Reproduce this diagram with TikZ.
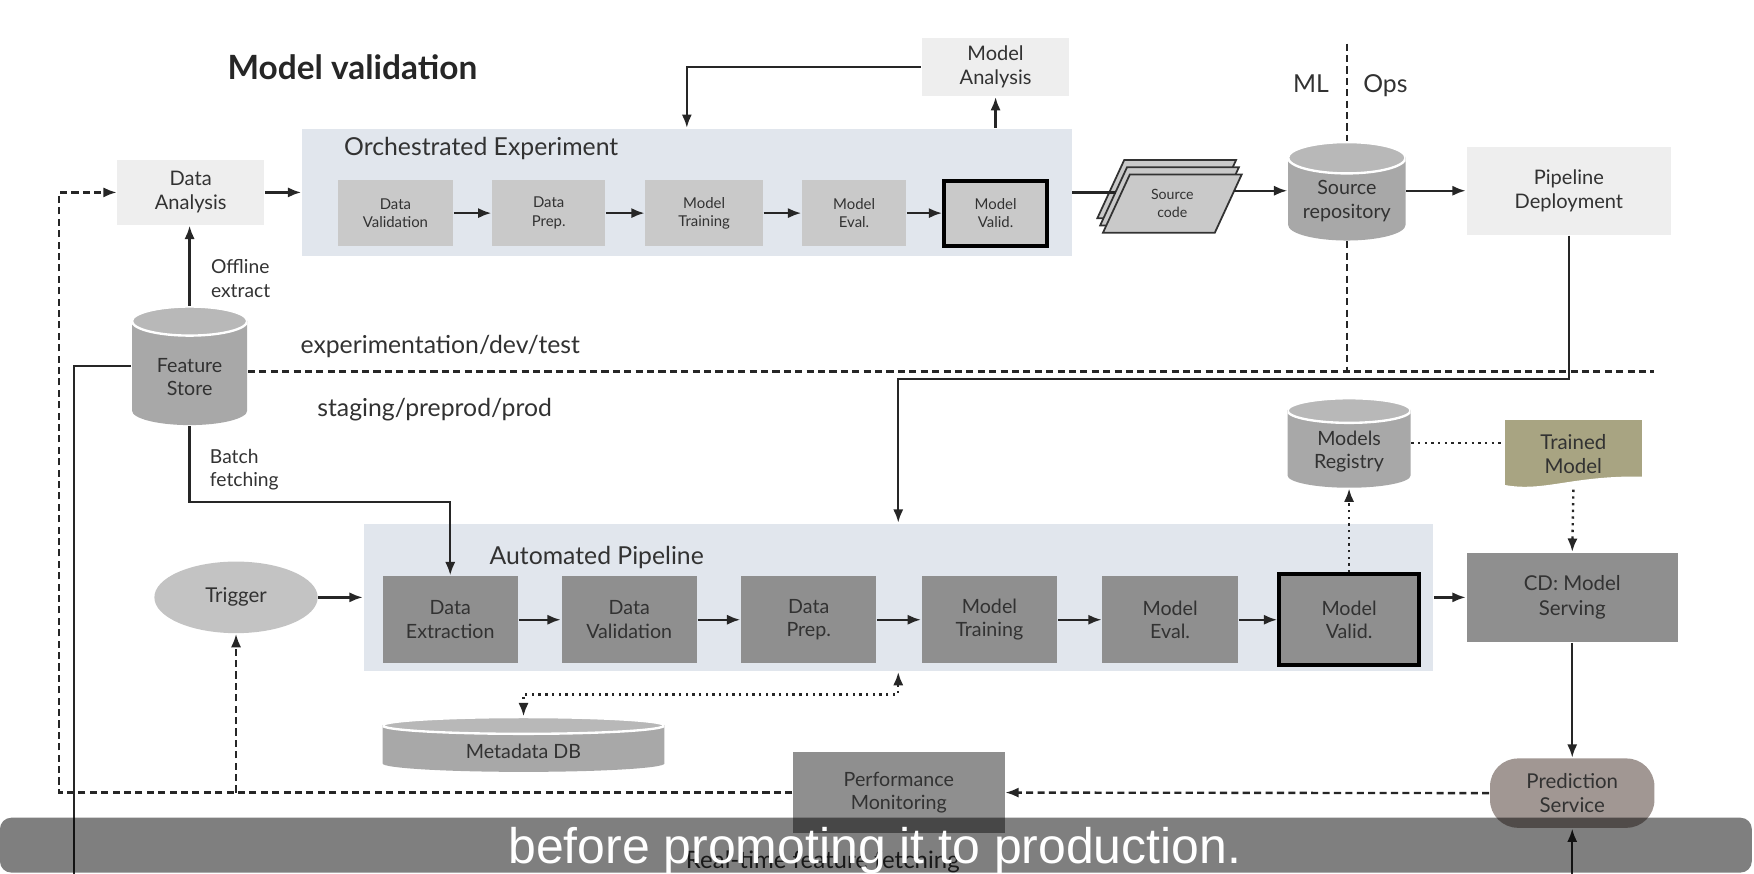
\documentclass[tikz,border=0pt]{standalone}
\usepackage{fontspec}
\setmainfont{Lato}
\newfontfamily\capfont{Liberation Sans}
\usepackage{xcolor}
\usetikzlibrary{arrows.meta,shapes.geometric,calc}

\definecolor{ink}{RGB}{50,50,50}
\definecolor{boxlight}{RGB}{238,238,238}
\definecolor{panelfill}{RGB}{225,230,237}
\definecolor{steplight}{RGB}{201,201,201}
\definecolor{stepdark}{RGB}{143,143,143}
\definecolor{dbbody}{RGB}{168,168,168}
\definecolor{dbtop}{RGB}{184,184,184}
\definecolor{trigfill}{RGB}{195,195,195}
\definecolor{olive}{RGB}{168,164,130}
\definecolor{psfill}{RGB}{161,151,147}

\begin{document}
\begin{tikzpicture}[
  every node/.style={text=ink, align=center, inner sep=0pt},
  lightbox/.style={fill=boxlight, font=\fontsize{5.1}{6.1}\selectfont},
  panel/.style={fill=panelfill},
  stepA/.style={fill=steplight, minimum height=0.59cm, font=\fontsize{3.8}{4.7}\selectfont},
  stepB/.style={fill=stepdark, minimum width=1.21cm, minimum height=0.78cm, font=\fontsize{5}{6}\selectfont},
  keystep/.style={draw=black, line width=1pt},
  db/.style={fill=white, path picture={
    \fill[dbbody] let \p1=(path picture bounding box.north west), \p2=(path picture bounding box.south east) in
      (\x1,{\y1-#1}) -- (\x1,{\y2+#1}) arc[start angle=180, end angle=360, x radius={(\x2-\x1)/2}, y radius=#1]
      -- (\x2,{\y1-#1}) -- cycle;
    \filldraw[fill=dbtop, draw=white, line width=0.6pt] let \p1=(path picture bounding box.north west), \p2=(path picture bounding box.south east) in
      ({(\x1+\x2)/2},{\y1-#1}) ellipse[x radius={(\x2-\x1)/2}, y radius=#1];}},
  dbtext/.style={font=\fontsize{5}{6}\selectfont},
  note/.style={font=\fontsize{4.9}{5.9}\selectfont, anchor=west, align=left},
  zone/.style={font=\fontsize{6.3}{7.5}\selectfont, anchor=west},
  tmdoc/.style={minimum width=1.23cm, minimum height=0.62cm, fill=olive,
    font=\fontsize{5.2}{6.2}\selectfont,
    path picture={\fill[white] ([yshift=0.035cm]path picture bounding box.south west)
      .. controls +(0.35,-0.065) and +(-0.63,0.01) .. ([yshift=0.11cm]path picture bounding box.south east)
      -- (path picture bounding box.south east) -- (path picture bounding box.south west) -- cycle;}},
  wire/.style={draw=black!85, line width=0.6pt},
  wiredash/.style={wire, dash pattern=on 1.8pt off 1.1pt},
  wiredot/.style={wire, dash pattern=on 0.6pt off 1.1pt},
  headend/.style={-{Latex[length=3.4pt,width=2.6pt]}},
  headboth/.style={{Latex[length=3.4pt,width=2.6pt]}-{Latex[length=3.4pt,width=2.6pt]}},
  flow/.style={wire, headend},
  flowdash/.style={wiredash, headend}
]
\useasboundingbox (0,0) rectangle (15.68,-7.81);

\node[font=\fontsize{8.5}{10}\selectfont\bfseries, text=black!85] (title) at (3.15,-0.60) {Model validation};

\node[lightbox, minimum width=1.31cm, minimum height=0.58cm] (da) at (1.705,-1.72) {Data\\Analysis};
\node[panel, minimum width=6.88cm, minimum height=1.14cm] (orch) at (6.14,-1.72) {};
\node[zone] (orchLbl) at (3.07,-1.33) {Orchestrated Experiment};
\node[stepA, minimum width=1.03cm] (dv1) at (3.535,-1.905) {Data\\Validation};
\node[stepA, minimum width=1.01cm] (dp1) at (4.905,-1.905) {Data\\Prep.};
\node[stepA, minimum width=1.05cm] (mt1) at (6.295,-1.905) {Model\\Training};
\node[stepA, minimum width=0.93cm] (me1) at (7.635,-1.905) {Model\\Eval.};
\node[stepA, keystep, minimum width=0.92cm, minimum height=0.58cm] (mv1) at (8.90,-1.905) {Model\\Valid.};
\node[lightbox, minimum width=1.32cm, minimum height=0.52cm] (ma) at (8.90,-0.60) {Model\\Analysis};

\begin{scope}[shift={(10.48,-1.82)}]
\foreach \o in {2,1,0}
  \filldraw[fill=steplight, draw=ink, line width=0.45pt]
    ({-0.62-0.025*\o},{-0.26+0.065*\o}) -- ({0.38-0.025*\o},{-0.26+0.065*\o})
    -- ({0.62-0.025*\o},{0.26+0.065*\o}) -- ({-0.38-0.025*\o},{0.26+0.065*\o}) -- cycle;
\end{scope}
\node[font=\fontsize{3.6}{4.6}\selectfont, minimum width=1cm, minimum height=0.52cm] (src) at (10.48,-1.82) {Source\\code};
\coordinate (srcOut) at (11.03,-1.705);

\node[db=0.14cm, minimum width=1.05cm, minimum height=0.88cm] (repo) at (12.04,-1.71) {};
\node[dbtext] (repoText) at (12.04,-1.795) {Source\\repository};
\node[lightbox, minimum width=1.83cm, minimum height=0.79cm] (pd) at (14.025,-1.705) {Pipeline\\Deployment};

\node[zone, anchor=base] (mlLbl) at (11.72,-0.83) {ML};
\node[zone, anchor=base] (opsLbl) at (12.385,-0.83) {Ops};
\coordinate (splitTop) at (12.04,-0.39);
\coordinate (envEnd) at (14.79,-3.32);

\node[db=0.13cm, minimum width=1.03cm, minimum height=1.06cm] (fs) at (1.695,-3.27) {};
\node[dbtext] (fsText) at (1.695,-3.37) {Feature\\Store};
\node[note] (offLbl) at (1.88,-2.49) {Offline\\extract};
\node[note] (batchLbl) at (1.87,-4.20) {Batch\\fetching};
\node[zone] (devLbl) at (2.68,-3.10) {experimentation/dev/test};
\node[zone] (prodLbl) at (2.83,-3.66) {staging/preprod/prod};

\node[panel, minimum width=9.56cm, minimum height=1.32cm] (auto) at (8.03,-5.34) {};
\node[zone] (autoLbl) at (4.37,-4.98) {Automated Pipeline};
\node[stepB] (de) at (4.025,-5.54) {Data\\Extraction};
\node[stepB] (dv2) at (5.625,-5.54) {Data\\Validation};
\node[stepB] (dp2) at (7.23,-5.54) {Data\\Prep.};
\node[stepB] (mt2) at (8.845,-5.54) {Model\\Training};
\node[stepB] (me2) at (10.46,-5.54) {Model\\Eval.};
\node[stepB, keystep, minimum width=1.25cm, minimum height=0.81cm] (mv2) at (12.06,-5.54) {Model\\Valid.};

\node[ellipse, fill=trigfill, minimum width=1.46cm, minimum height=0.64cm, font=\fontsize{5.2}{6.2}\selectfont] (trig) at (2.11,-5.34) {Trigger};
\node[db=0.075cm, minimum width=2.52cm, minimum height=0.49cm] (mdb) at (4.68,-6.655) {};
\node[dbtext] (mdbText) at (4.68,-6.72) {Metadata DB};

\node[db=0.11cm, minimum width=1.10cm, minimum height=0.80cm] (mr) at (12.06,-3.96) {};
\node[dbtext] (mrText) at (12.06,-4.035) {Models\\Registry};
\node[tmdoc] (tm) at (14.065,-4.06) {Trained\\Model};
\node[stepB, minimum width=1.89cm, minimum height=0.80cm, font=\fontsize{5.2}{6.2}\selectfont] (cd) at (14.055,-5.34) {CD: Model\\Serving};
\node[fill=psfill, rounded corners=0.25cm, minimum width=1.47cm, minimum height=0.62cm, font=\fontsize{5.2}{6.2}\selectfont] (ps) at (14.055,-7.09) {Prediction\\Service};
\node[stepB, minimum width=1.89cm, minimum height=0.73cm] (pm) at (8.035,-7.085) {Performance\\Monitoring};
\coordinate (psFeed) at (14.055,-7.81);
\coordinate (fbCorner) at (0.53,-7.085);
\coordinate (rtEnd) at (0.66,-7.81);

\draw[flow] (da.east) -- (orch.west);
\draw[flow] (fs.north) -- (fs.north |- da.south);
\foreach \a/\b in {dv1/dp1, dp1/mt1, mt1/me1, me1/mv1}
  \draw[flow] (\a) -- (\b);
\draw[flow] (orch.north -| mv1.north) -- (ma.south);
\draw[flow] (ma.west) -| (orch.north);
\draw[wire] (orch.east) -- (orch.east -| src.west);
\draw[flow] (srcOut) -- (srcOut -| repo.west);
\draw[flow] (pd.west -| repo.east) -- (pd.west);
\draw[wiredash] (splitTop) -- (repo.north);
\draw[wiredash] (repo.south) -- (repo.south |- envEnd);
\draw[wiredash] (fs.east |- envEnd) -- (envEnd);
\draw[flow] (pd.south) -- ++(0,-1.28) -| (auto.north);
\draw[wire] (fs.west) -| (rtEnd);
\draw[flowdash] (pm.west) -- (fbCorner) |- (da.west);
\draw[flow] (fs.south) -- ++(0,-0.68) -| (de.north);
\foreach \a/\b in {de/dv2, dv2/dp2, dp2/mt2, mt2/me2, me2/mv2}
  \draw[flow] (\a) -- (\b);
\draw[flow] (trig.east) -- (auto.west);
\draw[flowdash] (trig.south |- pm.west) -- (trig.south);
\draw[wiredot, headboth] (auto.south) -- ++(0,-0.20) -| (mdb.north);
\draw[wiredot, headend] (mv2.north) -- (mr.south);
\draw[wiredot] (mr.east) -- (mr.east -| tm.west);
\draw[wiredot, headend] (tm.south) -- (cd.north);
\draw[flow] (auto.east) -- (cd.west);
\draw[flow] (cd.south) -- (ps.north);
\draw[flow] (psFeed) -- (ps.south);
\draw[flowdash] (ps.west) -- (pm.east);

\node[font=\fontsize{6.1}{7.2}\selectfont] (rtLbl) at (7.355,-7.70) {Real-time feature fetching};
\fill[black, opacity=0.5, rounded corners=0.1cm] (0,-7.31) rectangle (15.66,-7.80);
\node[text=white, font=\capfont\fontsize{12.7}{15}\selectfont, anchor=base] (caption) at (7.82,-7.715) {before promoting it to production.};
\end{tikzpicture}
\end{document}
